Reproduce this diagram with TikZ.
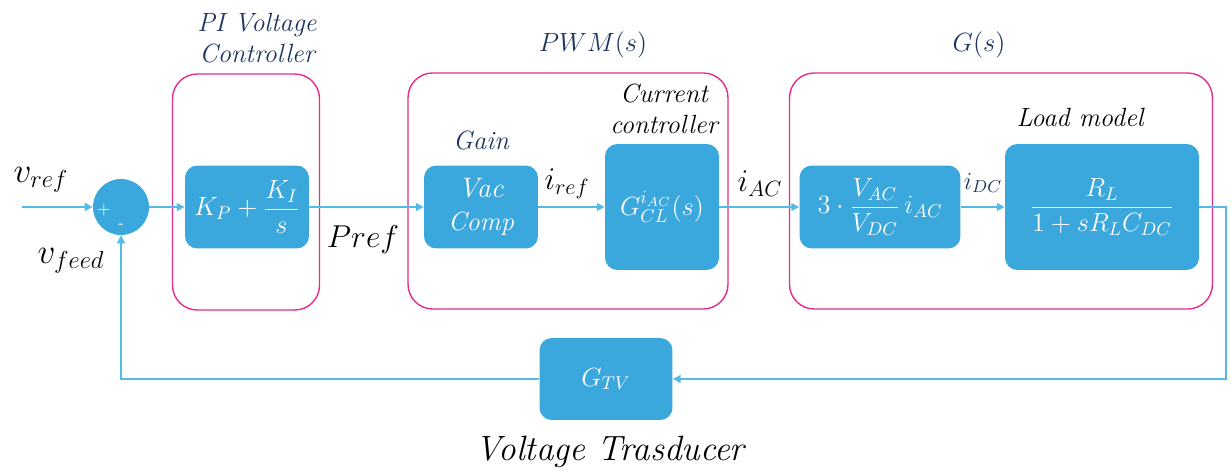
\documentclass[tikz,border=0pt]{standalone}
\usepackage{fix-cm}
\usepackage{amsmath}
\usepackage{xcolor}
\usepackage{tikz}
\usetikzlibrary{arrows.meta, positioning, calc}
\definecolor{CLBlue}{RGB}{58, 168, 220}
\definecolor{CLWire}{RGB}{84, 186, 230}
\definecolor{CLPink}{RGB}{230, 45, 140}
\definecolor{CLNavy}{RGB}{30, 52, 96}
\tikzset{
  blockbox/.style={
    rounded corners=7pt, fill=CLBlue, text=white,
    align=center, inner sep=2pt, font=\fontsize{15}{19}\selectfont
  },
  groupbox/.style={rounded corners=14pt, draw=CLPink, line width=0.8pt},
  wire/.style={draw=CLWire, line width=0.9pt},
  sig/.style={wire, -{Triangle[length=4.5pt, width=4.5pt]}},
  sigtag/.style={font=\fontsize{18}{20}\selectfont},
  titletext/.style={font=\fontsize{15}{18}\selectfont\itshape, align=center}
}

\begin{document}
\begin{tikzpicture}[x=0.02cm, y=-0.02cm]
    \useasboundingbox (0,0) rectangle (1232,474);

    \node[groupbox, minimum width=2.94cm, minimum height=4.72cm] (piGroup) at (246,192) {};
    \node[groupbox, minimum width=6.4cm, minimum height=4.72cm] (pwmGroup) at (568,191) {};
    \node[groupbox, minimum width=8.46cm, minimum height=4.72cm] (plantGroup) at (1001,191) {};

    \node[circle, fill=CLBlue, minimum size=1.12cm, inner sep=0pt] (sum) at (121,207) {};
    \node[text=white, inner sep=0pt, font=\fontsize{10}{10}\selectfont] (sumPlus) at (104,210) {+};
    \node[text=white, inner sep=0pt, font=\fontsize{10}{10}\selectfont] (sumMinus) at (121,226) {-};

    \node[blockbox, minimum width=2.48cm, minimum height=1.66cm] (piBox) at (247,207)
      {$\displaystyle K_P+\frac{K_I}{s}$};
    \node[blockbox, minimum width=2.28cm, minimum height=1.66cm] (gainBox) at (481,207)
      {\fontsize{16}{20}\selectfont\itshape Vac\\\itshape Comp};
    \node[blockbox, minimum width=2.28cm, minimum height=2.52cm] (ccBox) at (662,207)
      {$G_{CL}^{i_{AC}}(s)$};
    \node[blockbox, minimum width=3.22cm, minimum height=1.66cm] (convBox) at (880,207)
      {$\displaystyle 3\cdot\frac{V_{AC}}{V_{DC}}\,i_{AC}$};
    \node[blockbox, minimum width=3.88cm, minimum height=2.52cm] (loadBox) at (1102,207)
      {$\displaystyle \frac{R_L}{1+sR_LC_{DC}}$};
    \node[blockbox, minimum width=2.66cm, minimum height=1.64cm] (gtvBox) at (606,379)
      {$G_{TV}$};

    \node[titletext, text=CLNavy] (piTitle) at (257,38) {PI Voltage\\Controller};
    \node[titletext, text=CLNavy] (pwmTitle) at (593,45) {$PWM(s)$};
    \node[titletext, text=CLNavy] (plantTitle) at (979,45) {$G(s)$};
    \node[titletext, text=CLNavy] (gainTitle) at (481,140) {Gain};
    \node[titletext] (ccTitle) at (664,109) {Current\\controller};
    \node[titletext] (loadTitle) at (1080,117) {Load model};
    \node[font=\fontsize{20}{22}\selectfont\itshape] (gtvTitle) at (610,452) {Voltage Trasducer};

    \node[sigtag, font=\fontsize{20}{22}\selectfont] (vrefTag) at (41,180) {$v_{ref}$};
    \node[sigtag, font=\fontsize{20}{22}\selectfont] (vfeedTag) at (71,261) {$v_{feed}$};
    \node[sigtag] (prefTag) at (363,240) {$Pref$};
    \node[sigtag] (irefTag) at (567,184) {$i_{ref}$};
    \node[sigtag] (iacTag) at (760,184) {$i_{AC}$};
    \node[font=\fontsize{14}{16}\selectfont, text=CLNavy] (idcTag) at (983,183) {$i_{DC}$};

    \coordinate (vrefIn) at (22,207);
    \coordinate (fbRight) at (1226,207);

    \draw[sig] (vrefIn) -- (sum);
    \draw[sig] (sum) -- (piBox);
    \draw[sig] (piBox) -- (gainBox);
    \draw[sig] (gainBox) -- (ccBox);
    \draw[sig] (ccBox) -- (convBox);
    \draw[sig] (convBox) -- (loadBox);
    \draw[sig] (loadBox.east) -- (fbRight) |- (gtvBox.east);
    \draw[sig] (gtvBox.west) -| (sum.south);
\end{tikzpicture}
\end{document}
